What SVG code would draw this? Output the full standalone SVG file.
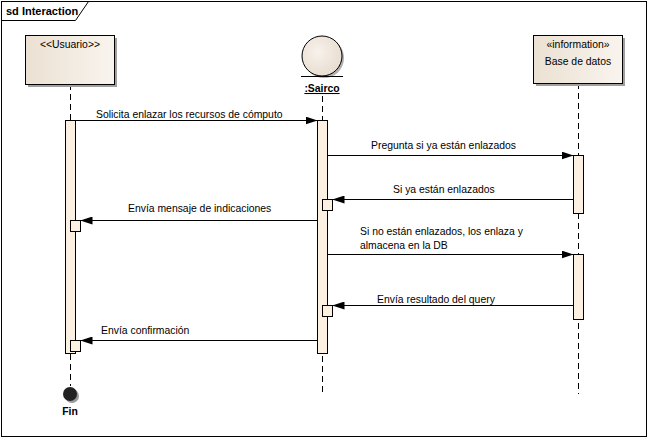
<svg xmlns="http://www.w3.org/2000/svg" width="648" height="438" viewBox="0 0 648 438">
<style>
text{font-family:"Liberation Sans",Arial,sans-serif;font-size:10.4px;fill:#000}
.node{fill:url(#g);stroke:#000;stroke-width:1}
.shadow{fill:#a0a0a0}
.life{stroke:#000;stroke-width:1;stroke-dasharray:6,4;fill:none}
.act{fill:#fbf0e2;stroke:#000;stroke-width:1}
.msg{stroke:#000;stroke-width:1;fill:none;marker-end:url(#arr)}
</style>
<defs>
<linearGradient id="g" x1="0" y1="0" x2="1" y2="0">
<stop offset="0" stop-color="#ebe1d3"/>
<stop offset="1" stop-color="#f9f4ee"/>
</linearGradient>
<radialGradient id="gc" cx="0.4" cy="0.4" r="0.7">
<stop offset="0" stop-color="#f8f2ec"/>
<stop offset="1" stop-color="#e6dbcc"/>
</radialGradient>
<marker id="arr" viewBox="0 0 12 8" refX="12" refY="4" markerWidth="12" markerHeight="8" markerUnits="userSpaceOnUse" orient="auto">
<path d="M0,0 L12,4 L0,8 Z" fill="#000"/>
</marker>
</defs>
<rect x="0" y="0" width="648" height="438" fill="#fff"/>
<g id="frame">
<rect x="1.5" y="1.5" width="645" height="435" fill="none" stroke="#000"/>
<path d="M1.5,20.5 H75.5 L88.5,1.5" fill="none" stroke="#000"/>
<text x="6" y="15" style="font-weight:bold;font-size:11px">sd Interaction</text>
</g>
<g id="lifelines">
<line class="life" x1="70.5" y1="84" x2="70.5" y2="386"/>
<line class="life" x1="322.5" y1="96" x2="322.5" y2="394"/>
<line class="life" x1="578.5" y1="83" x2="578.5" y2="394"/>
</g>
<g id="usuario">
<rect class="shadow" x="28" y="38" width="89" height="49"/>
<rect class="node" x="25.5" y="35.5" width="89" height="49"/>
<text x="70" y="48" text-anchor="middle">&lt;&lt;Usuario&gt;&gt;</text>
</g>
<g id="sairco">
<circle cx="324" cy="58" r="20" fill="#b0b0b0"/>
<circle cx="322" cy="56" r="20" fill="url(#gc)" stroke="#000"/>
<line x1="301" y1="76.5" x2="343" y2="76.5" stroke="#000"/>
<text x="322" y="92" text-anchor="middle" style="font-weight:bold;text-decoration:underline">:Sairco</text>
</g>
<g id="basededatos">
<rect class="shadow" x="536" y="38" width="89" height="48"/>
<rect class="node" x="533.5" y="35.5" width="89" height="48"/>
<text x="578" y="48" text-anchor="middle">«information»</text>
<text x="578" y="65" text-anchor="middle">Base de datos</text>
</g>
<g id="fin">
<circle cx="72" cy="396" r="7" fill="#999"/>
<circle cx="70" cy="394" r="7" fill="#222"/>
<text x="70" y="415" text-anchor="middle" style="font-weight:bold">Fin</text>
</g>
<g id="activations">
<rect class="act" x="65.5" y="120.5" width="10" height="233"/>
<rect class="act" x="317.5" y="120.5" width="10" height="233"/>
<rect class="act" x="573.5" y="155.5" width="10" height="58"/>
<rect class="act" x="573.5" y="254.5" width="10" height="65"/>
<rect class="act" x="322.5" y="199.5" width="10" height="11"/>
<rect class="act" x="322.5" y="305.5" width="10" height="11"/>
<rect class="act" x="70.5" y="220.5" width="10" height="11"/>
<rect class="act" x="70.5" y="340.5" width="10" height="11"/>
</g>
<g id="connectors">
<line class="msg" x1="75.5" y1="120.5" x2="317.5" y2="120.5"/>
<line class="msg" x1="327.5" y1="155.5" x2="573.5" y2="155.5"/>
<line class="msg" x1="573.5" y1="199.5" x2="332.5" y2="199.5"/>
<line class="msg" x1="317.5" y1="220.5" x2="80.5" y2="220.5"/>
<line class="msg" x1="327.5" y1="254.5" x2="573.5" y2="254.5"/>
<line class="msg" x1="573.5" y1="305.5" x2="332.5" y2="305.5"/>
<line class="msg" x1="317.5" y1="340.5" x2="80.5" y2="340.5"/>
</g>
<g id="labels">
<text x="96" y="118">Solicita enlazar los recursos de cómputo</text>
<text x="371" y="149">Pregunta si ya están enlazados</text>
<text x="393" y="193">Si ya están enlazados</text>
<text x="128" y="212">Envía mensaje de indicaciones</text>
<text x="360" y="235">Si no están enlazados, los enlaza y</text>
<text x="360" y="249">almacena en la DB</text>
<text x="377" y="303">Envía resultado del query</text>
<text x="101" y="334">Envía confirmación</text>
</g>
</svg>
